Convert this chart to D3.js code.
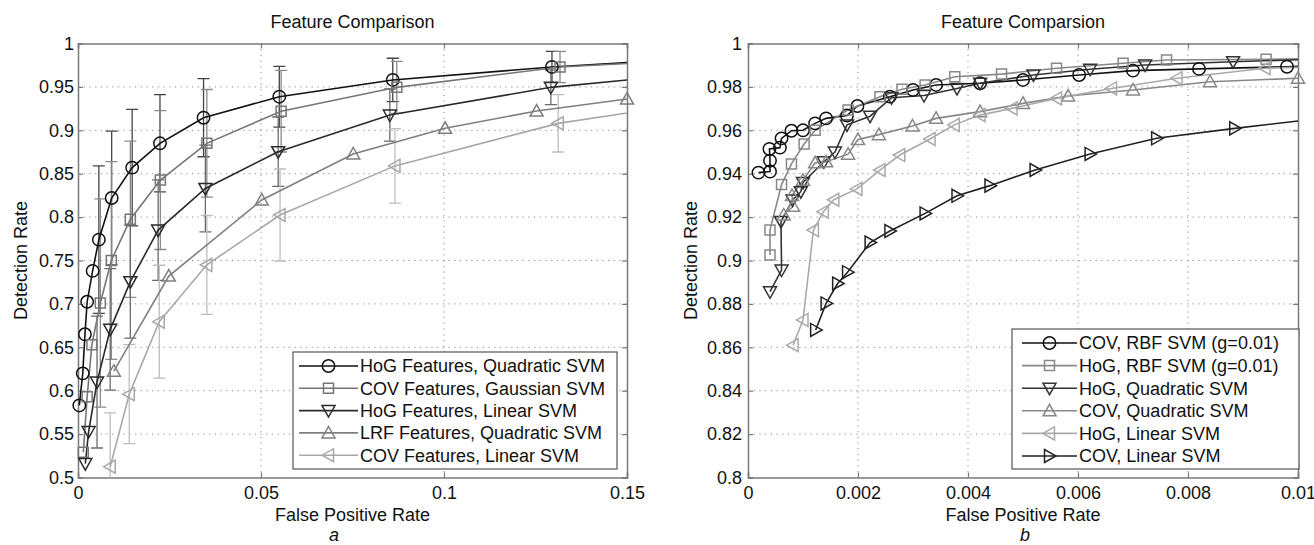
<!DOCTYPE html>
<html>
<head>
<meta charset="utf-8">
<script src="https://cdn.jsdelivr.net/npm/d3@7"></script>
<style>
  body { margin: 0; background: #fff; }
</style>
</head>
<body>
<div id="chart"></div>
<script>
// ---- panel a data (false positive rate / detection rate / error half-width) ----
const aXTicks = [0, 0.05, 0.1, 0.15];
const aYTicks = [0.5, 0.55, 0.6, 0.65, 0.7, 0.75, 0.8, 0.85, 0.9, 0.95, 1];

const aHogQuadX = [0.00036, 0.0013, 0.0019, 0.0025, 0.004, 0.0057, 0.0092, 0.0148, 0.0224, 0.0343, 0.055, 0.086, 0.1295];
const aHogQuadY = [0.583, 0.62, 0.665, 0.7025, 0.738, 0.774, 0.822, 0.857, 0.885, 0.9145, 0.9387, 0.958, 0.973];
const aHogQuadErr = [null, null, null, null, null, 0.085, 0.077, 0.067, 0.056, 0.045, 0.035, 0.025, 0.018];
const aHogQuadEdge = 0.978;

const aCovGaussX = [0.00145, 0.0025, 0.0038, 0.0061, 0.0091, 0.0143, 0.0225, 0.0352, 0.0555, 0.0871, 0.1317];
const aCovGaussY = [0.529, 0.593, 0.653, 0.701, 0.75, 0.7975, 0.8427, 0.885, 0.922, 0.9495, 0.973];
const aCovGaussErr = [null, null, null, 0.12, 0.114, 0.09, 0.08, 0.062, 0.047, 0.03, 0.018];
const aCovGaussEdge = 0.977;

const aHogLinX = [0.002, 0.0029, 0.0052, 0.0088, 0.0143, 0.0219, 0.0348, 0.0547, 0.0852, 0.1292];
const aHogLinY = [0.516, 0.553, 0.61, 0.6707, 0.7256, 0.785, 0.833, 0.8753, 0.9176, 0.9495];
const aHogLinErr = [null, null, 0.076, 0.07, 0.065, 0.058, 0.05, 0.04, 0.03, 0.02];
const aHogLinEdge = 0.958;

const aLrfQuadX = [0.0098, 0.0248, 0.0502, 0.0752, 0.1003, 0.1253, 0.15];
const aLrfQuadY = [0.6225, 0.732, 0.8197, 0.8727, 0.9023, 0.9222, 0.936];

const aCovLinX = [0.0088, 0.014, 0.0222, 0.0352, 0.0552, 0.0866, 0.1312];
const aCovLinY = [0.5125, 0.596, 0.6795, 0.745, 0.8024, 0.859, 0.908];
const aCovLinErr = [0.062, 0.057, 0.065, 0.057, 0.053, 0.043, 0.033];
const aCovLinEdge = 0.92;

const aNames = ["HoG Features, Quadratic SVM", "COV Features, Gaussian SVM", "HoG Features, Linear SVM",
                "LRF Features, Quadratic SVM", "COV Features, Linear SVM"];

// ---- panel b data ----
const bXTicks = [0, 0.002, 0.004, 0.006, 0.008, 0.01];
const bYTicks = [0.8, 0.82, 0.84, 0.86, 0.88, 0.9, 0.92, 0.94, 0.96, 0.98, 1];

const bCovRbfX = [0.00019, 0.0004, 0.0004, 0.00039, 0.00058, 0.00061, 0.00079, 0.001, 0.00122, 0.00142, 0.0018, 0.00199, 0.00258, 0.003, 0.00342, 0.00422, 0.005, 0.00602, 0.007, 0.0082, 0.0098];
const bCovRbfY = [0.9405, 0.941, 0.946, 0.9514, 0.952, 0.9563, 0.9598, 0.96, 0.9632, 0.9655, 0.9668, 0.9712, 0.9755, 0.9786, 0.9809, 0.9817, 0.9832, 0.9855, 0.9875, 0.9883, 0.9893];
const bCovRbfEdge = 0.9895;

const bHogRbfX = [0.0004, 0.0004, 0.00061, 0.00079, 0.00102, 0.00122, 0.00182, 0.0024, 0.0028, 0.00322, 0.00376, 0.00461, 0.00561, 0.00682, 0.00761, 0.00942];
const bHogRbfY = [0.9025, 0.914, 0.935, 0.9445, 0.9537, 0.96, 0.9694, 0.9755, 0.9789, 0.9809, 0.9847, 0.9859, 0.9886, 0.9909, 0.9924, 0.9927];
const bHogRbfEdge = 0.993;

const bHogQuadX = [0.0004, 0.00061, 0.0006, 0.00081, 0.00096, 0.001, 0.00138, 0.00158, 0.0018, 0.00222, 0.00261, 0.0032, 0.0038, 0.00422, 0.00519, 0.00622, 0.00722, 0.00882];
const bHogQuadY = [0.8856, 0.8956, 0.918, 0.9279, 0.9317, 0.936, 0.9455, 0.95, 0.9625, 0.9665, 0.975, 0.976, 0.9793, 0.9817, 0.9855, 0.9881, 0.9901, 0.9916];
const bHogQuadEdge = 0.9925;

const bCovQuadX = [0.00065, 0.00082, 0.0008, 0.001, 0.00122, 0.00142, 0.00182, 0.002, 0.00238, 0.00299, 0.00342, 0.00422, 0.005, 0.00582, 0.007, 0.0084, 0.01];
const bCovQuadY = [0.921, 0.925, 0.93, 0.937, 0.945, 0.9455, 0.949, 0.9558, 0.958, 0.962, 0.9655, 0.9686, 0.9724, 0.9758, 0.9786, 0.9824, 0.984];

const bHogLinX = [0.00082, 0.001, 0.00119, 0.00137, 0.00156, 0.00198, 0.0024, 0.00276, 0.00331, 0.00375, 0.00422, 0.0048, 0.00561, 0.00661, 0.0078, 0.0094];
const bHogLinY = [0.861, 0.8726, 0.914, 0.9225, 0.928, 0.933, 0.9417, 0.9486, 0.956, 0.9625, 0.967, 0.9701, 0.9747, 0.9793, 0.984, 0.9886];
const bHogLinEdge = 0.989;

const bCovLinX = [0.00123, 0.00142, 0.00163, 0.00181, 0.00222, 0.00258, 0.00322, 0.0038, 0.0044, 0.00522, 0.00622, 0.00743, 0.00885];
const bCovLinY = [0.868, 0.8802, 0.8894, 0.8946, 0.9083, 0.9136, 0.9217, 0.9298, 0.9345, 0.9417, 0.9491, 0.9563, 0.9609];
const bCovLinEdge = 0.9643;

const bNames = ["COV, RBF SVM (g=0.01)", "HoG, RBF SVM (g=0.01)", "HoG, Quadratic SVM",
                "COV, Quadratic SVM", "HoG, Linear SVM", "COV, Linear SVM"];

// ---- drawing ----
const width = 1314, height = 545;
const fontFamily = "'Liberation Sans', Arial, Helvetica, sans-serif";

const svg = d3.select("#chart").append("svg")
    .attr("width", width)
    .attr("height", height)
    .style("font-family", fontFamily)
    .style("background", "#fff");

function zip(xs, ys, errs) {
    return xs.map((v, i) => ({ x: v, y: ys[i], e: errs ? errs[i] : null }));
}

// marker shapes, centered on 0,0
function addMarker(sel, type, color) {
    if (type === "circle") {
        return sel.append("circle").attr("r", 6.2)
            .attr("fill", "none").attr("stroke", color).attr("stroke-width", 1.5);
    }
    const paths = {
        square: "M-5,-5H5V5H-5Z",
        down: "M-6.5,-5H6.5L0,6.5Z",
        up: "M-6.5,5H6.5L0,-6.5Z",
        left: "M5,-6.5V6.5L-6.5,0Z",
        right: "M-5,-6.5V6.5L6.5,0Z"
    };
    return sel.append("path").attr("d", paths[type])
        .attr("fill", "none").attr("stroke", color).attr("stroke-width", 1.5)
        .attr("stroke-linejoin", "miter");
}

function drawPanel(p) {
    const x = d3.scaleLinear().domain(p.xDomain).range([p.left, p.right]);
    const y = d3.scaleLinear().domain(p.yDomain).range([p.bottom, p.top]);
    const fmt = d3.format("~g");

    const clipId = "clip-" + p.id;
    svg.append("clipPath").attr("id", clipId)
        .append("rect")
        .attr("x", p.left).attr("y", p.top)
        .attr("width", p.right - p.left).attr("height", p.bottom - p.top);

    const g = svg.append("g");

    // Grid lines (dotted)
    g.append("g").selectAll("line").data(p.xTicks.slice(1, -1)).join("line")
        .attr("x1", d => x(d)).attr("x2", d => x(d))
        .attr("y1", p.top).attr("y2", p.bottom)
        .attr("stroke", "#8a8a8a").attr("stroke-width", 1).attr("stroke-dasharray", "1.2,4.5");
    g.append("g").selectAll("line").data(p.yTicks.slice(1, -1)).join("line")
        .attr("y1", d => y(d)).attr("y2", d => y(d))
        .attr("x1", p.left).attr("x2", p.right)
        .attr("stroke", "#8a8a8a").attr("stroke-width", 1).attr("stroke-dasharray", "1.2,4.5");

    // Axes (inward ticks on all four sides)
    const axisColor = "#7a7a7a";
    const bottom = g.append("g").attr("transform", `translate(0,${p.bottom})`)
        .call(d3.axisBottom(x).tickValues(p.xTicks).tickSize(-5).tickPadding(9).tickFormat(fmt));
    const left = g.append("g").attr("transform", `translate(${p.left},0)`)
        .call(d3.axisLeft(y).tickValues(p.yTicks).tickSize(-5).tickPadding(p.yPad).tickFormat(fmt));
    const top = g.append("g").attr("transform", `translate(0,${p.top})`)
        .call(d3.axisTop(x).tickValues(p.xTicks).tickSize(-5).tickFormat(""));
    const right = g.append("g").attr("transform", `translate(${p.right},0)`)
        .call(d3.axisRight(y).tickValues(p.yTicks).tickSize(-5).tickFormat(""));
    [bottom, left, top, right].forEach(a => {
        a.select(".domain").attr("stroke", axisColor).attr("stroke-width", 1.5);
        a.selectAll(".tick line").attr("stroke", axisColor).attr("stroke-width", 1.2);
        a.selectAll("text").attr("fill", "#111").style("font-size", "18px").style("font-family", fontFamily);
    });

    const plot = g.append("g").attr("clip-path", `url(#${clipId})`);

    // Error bars
    p.series.forEach(s => {
        const eb = plot.append("g").attr("stroke", s.errColor || s.color).attr("stroke-width", 1.3);
        s.points.filter(d => d.e != null).forEach(d => {
            const x0 = x(d.x), ylo = y(d.y - d.e), yhi = y(d.y + d.e);
            eb.append("line").attr("x1", x0).attr("x2", x0).attr("y1", ylo).attr("y2", yhi);
            eb.append("line").attr("x1", x0 - 6).attr("x2", x0 + 6).attr("y1", ylo).attr("y2", ylo);
            eb.append("line").attr("x1", x0 - 6).attr("x2", x0 + 6).attr("y1", yhi).attr("y2", yhi);
        });
    });

    // Lines
    const line = d3.line().x(d => x(d.x)).y(d => y(d.y));
    p.series.forEach(s => {
        const pts = s.edge != null ? s.points.concat([{ x: p.xDomain[1], y: s.edge }]) : s.points;
        plot.append("path").datum(pts)
            .attr("d", line)
            .attr("fill", "none")
            .attr("stroke", s.color)
            .attr("stroke-width", 1.6);
    });

    // Markers
    p.series.forEach(s => {
        s.points.forEach(d => {
            const m = g.append("g").attr("transform", `translate(${x(d.x)},${y(d.y)})`);
            addMarker(m, s.marker, s.color);
        });
    });

    // Title
    g.append("text")
        .attr("x", (p.left + p.right) / 2).attr("y", 28)
        .attr("text-anchor", "middle")
        .style("font-size", "18px").attr("fill", "#111")
        .text(p.title);

    // Axis labels
    g.append("text")
        .attr("x", (p.left + p.right) / 2).attr("y", 521)
        .attr("text-anchor", "middle")
        .style("font-size", "18px").attr("fill", "#111")
        .text("False Positive Rate");
    g.append("text")
        .attr("transform", `translate(${p.yLabelX},${(p.top + p.bottom) / 2}) rotate(-90)`)
        .attr("text-anchor", "middle")
        .style("font-size", "18px").attr("fill", "#111")
        .text("Detection Rate");

    // Subfigure letter
    g.append("text")
        .attr("x", p.letterX).attr("y", 541)
        .attr("text-anchor", "middle")
        .style("font-size", "18px").style("font-style", "italic").attr("fill", "#111")
        .text(p.letter);

    // Legend
    const L = p.legend;
    const lg = g.append("g");
    lg.append("rect")
        .attr("x", L.x).attr("y", L.y).attr("width", L.w).attr("height", L.h)
        .attr("fill", "#fff").attr("stroke", "#555").attr("stroke-width", 1.2);
    p.series.forEach((s, i) => {
        const cy = L.firstRow + i * L.rowGap;
        lg.append("line")
            .attr("x1", L.lineX1).attr("x2", L.lineX2).attr("y1", cy).attr("y2", cy)
            .attr("stroke", s.color).attr("stroke-width", 1.6);
        const m = lg.append("g").attr("transform", `translate(${(L.lineX1 + L.lineX2) / 2},${cy})`);
        addMarker(m, s.marker, s.color);
        lg.append("text")
            .attr("x", L.textX).attr("y", cy).attr("dy", "0.36em")
            .style("font-size", "18px").attr("fill", "#111")
            .text(s.name);
    });
}

drawPanel({
    id: "a",
    title: "Feature Comparison",
    letter: "a", letterX: 334,
    left: 78, right: 627, top: 43.5, bottom: 477.5,
    xDomain: [0, 0.15], yDomain: [0.5, 1],
    xTicks: aXTicks, yTicks: aYTicks,
    yPad: 4, yLabelX: 27,
    legend: { x: 293, y: 352, w: 324, h: 117, firstRow: 366, rowGap: 22.3, lineX1: 299, lineX2: 358, textX: 360 },
    series: [
        { name: aNames[0], marker: "circle", color: "#111", errColor: "#444", points: zip(aHogQuadX, aHogQuadY, aHogQuadErr), edge: aHogQuadEdge },
        { name: aNames[1], marker: "square", color: "#767676", errColor: "#8a8a8a", points: zip(aCovGaussX, aCovGaussY, aCovGaussErr), edge: aCovGaussEdge },
        { name: aNames[2], marker: "down", color: "#2a2a2a", errColor: "#6a6a6a", points: zip(aHogLinX, aHogLinY, aHogLinErr), edge: aHogLinEdge },
        { name: aNames[3], marker: "up", color: "#7f7f7f", points: zip(aLrfQuadX, aLrfQuadY), edge: null },
        { name: aNames[4], marker: "left", color: "#a8a8a8", errColor: "#bdbdbd", points: zip(aCovLinX, aCovLinY, aCovLinErr), edge: aCovLinEdge }
    ]
});

drawPanel({
    id: "b",
    title: "Feature Comparsion",
    letter: "b", letterX: 1025,
    left: 748, right: 1298, top: 43.5, bottom: 477.5,
    xDomain: [0, 0.01], yDomain: [0.8, 1],
    xTicks: bXTicks, yTicks: bYTicks,
    yPad: 6, yLabelX: 697,
    legend: { x: 1012, y: 329, w: 287, h: 140, firstRow: 343, rowGap: 22.6, lineX1: 1022, lineX2: 1077, textX: 1079 },
    series: [
        { name: bNames[0], marker: "circle", color: "#111", points: zip(bCovRbfX, bCovRbfY), edge: bCovRbfEdge },
        { name: bNames[1], marker: "square", color: "#888", points: zip(bHogRbfX, bHogRbfY), edge: bHogRbfEdge },
        { name: bNames[2], marker: "down", color: "#333", points: zip(bHogQuadX, bHogQuadY), edge: bHogQuadEdge },
        { name: bNames[3], marker: "up", color: "#888", points: zip(bCovQuadX, bCovQuadY), edge: null },
        { name: bNames[4], marker: "left", color: "#aaa", points: zip(bHogLinX, bHogLinY), edge: bHogLinEdge },
        { name: bNames[5], marker: "right", color: "#222", points: zip(bCovLinX, bCovLinY), edge: bCovLinEdge }
    ]
});
</script>
</body>
</html>
